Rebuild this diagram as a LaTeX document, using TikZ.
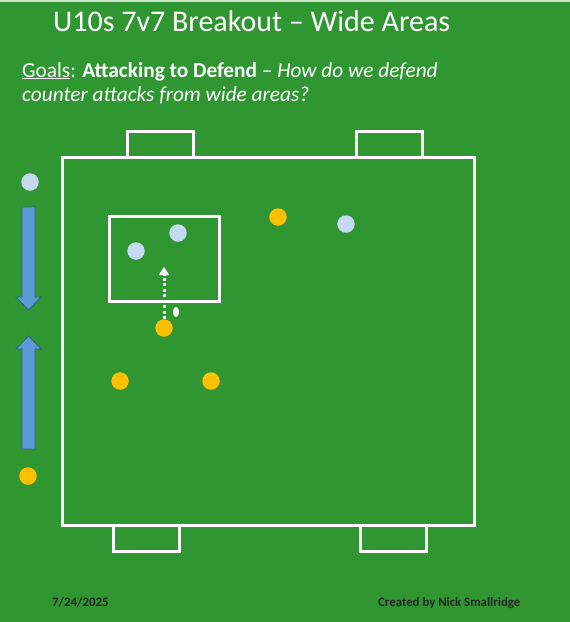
\documentclass[tikz,border=0pt]{standalone}
\usepackage{fontspec}
\setmainfont{Carlito}
\usetikzlibrary{arrows.meta,shapes.geometric}
\definecolor{pitch}{RGB}{48,150,50}
\definecolor{yel}{RGB}{255,192,0}
\definecolor{lblue}{RGB}{197,217,241}
\definecolor{abl}{RGB}{91,155,213}
\definecolor{abd}{RGB}{50,95,135}
\begin{document}
\begin{tikzpicture}[x=1pt,y=-1pt,
  wline/.style={draw=white,line width=3pt},
  att/.style={circle,fill=yel,minimum size=17.5pt,inner sep=0pt},
  def/.style={circle,fill=lblue,minimum size=17.5pt,inner sep=0pt},
  bigarrow/.style={fill=abl,draw=abd,line width=0.8pt,line join=miter},
  txt/.style={text=white,inner sep=0pt}]
\useasboundingbox (0,0) rectangle (570,622);
\fill[pitch] (0,0) rectangle (570,622);
\fill[white!75!pitch] (0,0) rectangle (570,1.5);
% texts
\node[txt,anchor=base west,font=\fontsize{30}{34}\selectfont] (title) at (53,31) {U10s 7v7 Breakout – Wide Areas};
\node[txt,anchor=base west,font=\fontsize{21.3}{24}\selectfont] (goals) at (22,77) {\underline{Goals}: \textbf{Attacking to Defend} – \textit{How do we defend}};
\node[txt,anchor=base west,font=\fontsize{21.3}{24}\selectfont\itshape] (goals2) at (22,101) {counter attacks from wide areas?};
\node[anchor=base west,inner sep=0pt,text=black!85,font=\fontsize{12.8}{14}\selectfont\bfseries] (date) at (52,606) {7/24/2025};
\node[anchor=base west,inner sep=0pt,text=black!85,font=\fontsize{12.8}{14}\selectfont\bfseries] (credit) at (378,606) {Created by Nick Smallridge};
% pitch
\draw[wline] (62,157) rectangle (474,525);
\draw[wline] (127,157) -- (127,131) -- (193,131) -- (193,157);
\draw[wline] (356,157) -- (356,131) -- (422,131) -- (422,157);
\draw[wline] (113,525) -- (113,551) -- (179,551) -- (179,525);
\draw[wline] (360,525) -- (360,551) -- (426,551) -- (426,525);
\draw[wline] (109,216) rectangle (219,301);
% big arrows
\draw[bigarrow] (22,207) -- (35,207) -- (35,297) -- (41,297) -- (28.5,310) -- (16,297) -- (22,297) -- cycle;
\draw[bigarrow] (22,449) -- (35,449) -- (35,349) -- (41,349) -- (28.5,336) -- (16,349) -- (22,349) -- cycle;
% players
\node[def] (d1) at (30,182) {};
\node[def] (d2) at (178,233) {};
\node[def] (d3) at (136,251) {};
\node[def] (d4) at (346,224) {};
\node[att] (a1) at (278,217) {};
\node[att] (a2) at (164,328) {};
\node[att] (a3) at (120,381) {};
\node[att] (a4) at (211,381) {};
\node[att] (a5) at (28,476) {};
\node[ellipse,fill=white,minimum width=6pt,minimum height=10pt,inner sep=0pt] (ball) at (176,312) {};
\coordinate (runend) at (164,267);
\draw[white,line width=3pt,dash pattern=on 3pt off 2.5pt,-{Triangle[width=10pt,length=8pt]}] (a2.north) -- (runend);
\end{tikzpicture}
\end{document}
